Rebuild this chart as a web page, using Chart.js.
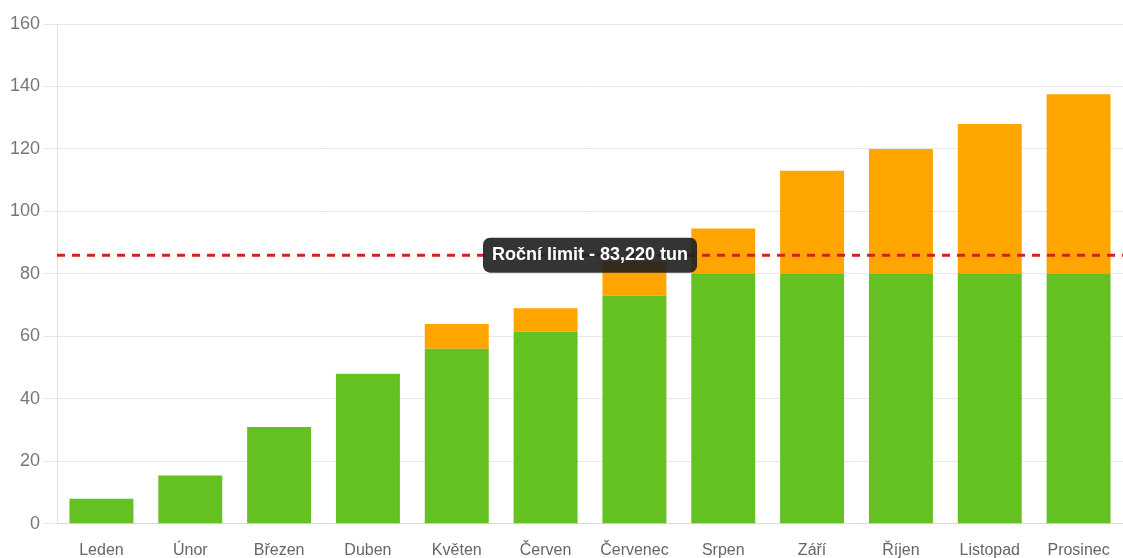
<!DOCTYPE html>
<html lang="cs">
<head>
    <meta charset="UTF-8">
    <script src="https://cdn.jsdelivr.net/npm/chart.js"></script>
    <style>
        html, body {
            margin: 0;
            padding: 0;
            background: #fff;
        }
        .chart-box {
            position: relative;
            width: 1123px;
            height: 558px;
        }
    </style>
</head>
<body>
    <div class="chart-box">
        <canvas id="limitChart"></canvas>
    </div>

    <script>
        const months = ['Leden', 'Únor', 'Březen', 'Duben', 'Květen', 'Červen',
                        'Červenec', 'Srpen', 'Září', 'Říjen', 'Listopad', 'Prosinec'];
        // spotřeba do limitu (zelená) a nad limit (oranžová)
        const underLimit = [8, 15.5, 31, 48, 56, 61.5, 73, 80, 80, 80, 80, 80];
        const overLimit = [0, 0, 0, 0, 8, 7.5, 11, 14.5, 33, 40, 48, 57.5];
        const limitValue = 86;
        const limitLabel = 'Roční limit - 83,220 tun';

        // čárkovaná čára limitu + štítek
        const limitLine = {
            id: 'limitLine',
            afterDatasetsDraw(chart) {
                const ctx = chart.ctx;
                const area = chart.chartArea;
                const y = chart.scales.y.getPixelForValue(limitValue);

                ctx.save();
                ctx.strokeStyle = '#d52020';
                ctx.lineWidth = 3;
                ctx.setLineDash([8, 7]);
                ctx.beginPath();
                ctx.moveTo(area.left, y);
                ctx.lineTo(area.right, y);
                ctx.stroke();
                ctx.setLineDash([]);

                ctx.font = 'bold 18px "Liberation Sans", Arial, sans-serif';
                const w = ctx.measureText(limitLabel).width + 18;
                const h = 35;
                const cx = (area.left + area.right) / 2;
                ctx.fillStyle = 'rgba(30, 30, 30, 0.9)';
                ctx.beginPath();
                ctx.roundRect(cx - w / 2, y - h / 2, w, h, 7);
                ctx.fill();
                ctx.fillStyle = '#fff';
                ctx.textAlign = 'center';
                ctx.textBaseline = 'middle';
                ctx.fillText(limitLabel, cx, y);
                ctx.restore();
            }
        };

        const chart = new Chart(document.getElementById('limitChart'), {
            type: 'bar',
            data: {
                labels: months,
                datasets: [
                    {
                        label: 'Do limitu',
                        data: underLimit,
                        backgroundColor: '#64c121'
                    },
                    {
                        label: 'Nad limit',
                        data: overLimit,
                        backgroundColor: '#ffa500'
                    }
                ]
            },
            options: {
                responsive: true,
                maintainAspectRatio: false,
                animation: false,
                layout: {
                    padding: { top: 24, right: 0, left: 7, bottom: -5 }
                },
                scales: {
                    x: {
                        stacked: true,
                        // neviditelné značky, jen kvůli odsazení popisků
                        grid: { display: true, drawOnChartArea: false, color: 'rgba(0,0,0,0)', tickLength: 14 },
                        border: { color: '#d9d9d9' },
                        ticks: {
                            padding: 3,
                            color: '#666',
                            font: { family: '"Liberation Sans", Arial, sans-serif', size: 16 }
                        }
                    },
                    y: {
                        stacked: true,
                        min: 0,
                        max: 160,
                        grid: { color: '#e8e8e8', tickLength: 14 },
                        border: { color: '#e0e0e0' },
                        ticks: {
                            stepSize: 20,
                            padding: 3,
                            color: '#777',
                            font: { family: '"Liberation Sans", Arial, sans-serif', size: 18 }
                        }
                    }
                },
                plugins: {
                    legend: { display: false },
                    tooltip: { enabled: false }
                }
            },
            plugins: [limitLine]
        });
    </script>
</body>
</html>
